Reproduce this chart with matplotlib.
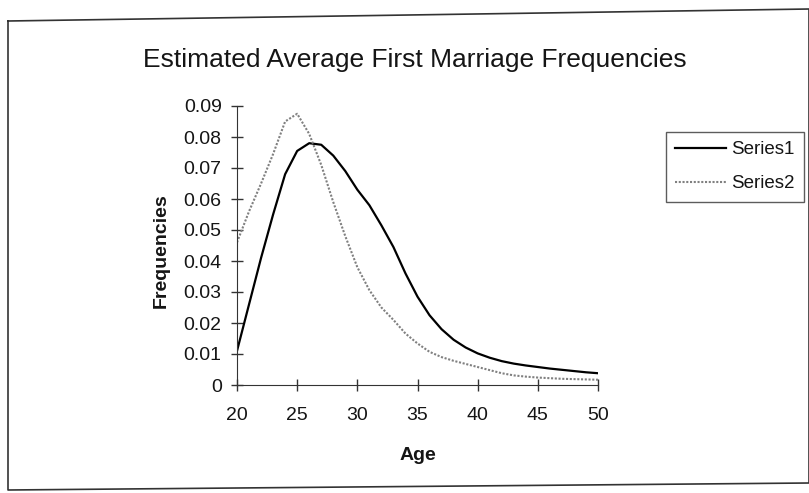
import numpy as np
import matplotlib
matplotlib.use('Agg')
import matplotlib.pyplot as plt
from matplotlib.lines import Line2D

plt.rcParams['font.family'] = ['Liberation Sans', 'DejaVu Sans']

age = list(range(20, 51))
series1 = [0.011, 0.026, 0.041, 0.055, 0.068, 0.0755, 0.078, 0.0775, 0.074, 0.069,
           0.063, 0.058, 0.0515, 0.0445, 0.036, 0.0285, 0.0225, 0.0180, 0.0146, 0.0121,
           0.0102, 0.0088, 0.0077, 0.0069, 0.0063, 0.0058, 0.0053, 0.0049, 0.0045, 0.0041,
           0.0038]
series2 = [0.046, 0.056, 0.065, 0.0745, 0.085, 0.0875, 0.081, 0.071, 0.059, 0.048,
           0.038, 0.0306, 0.025, 0.021, 0.0166, 0.0134, 0.0107, 0.0090, 0.0078, 0.0068,
           0.0058, 0.0048, 0.0038, 0.0031, 0.0027, 0.0024, 0.0022, 0.0020, 0.0019, 0.0018,
           0.0017]

W, H = 809, 493
fig = plt.figure(figsize=(W / 100, H / 100), dpi=100)

def fx(px):
    return px / W

def fy(py):
    return 1 - py / H

ink = '#151515'

# chart area border (slightly skewed like the scan)
border = [(8, 21), (809, 9), (809, 483), (8, 490), (8, 21)]
fig.add_artist(Line2D([fx(p[0]) for p in border], [fy(p[1]) for p in border],
                      color='#333333', linewidth=1.2, transform=fig.transFigure))

ax = fig.add_axes([fx(237), fy(385), fx(598) - fx(237), fy(106) - fy(385)])
ax.plot(age, series1, color='black', linewidth=1.6, label='Series1')
ax.plot(age, series2, color='#808080', linewidth=1.5, linestyle=(0, (1, 0.8)), label='Series2')

ax.set_xlim(20, 50)
ax.set_ylim(0, 0.09)
ax.set_xticks(range(20, 51, 5))
ax.set_yticks(np.arange(0, 0.091, 0.01))
ax.set_yticklabels(['0'] + [f'{v:.2f}' for v in np.arange(0.01, 0.091, 0.01)])
for s in ['top', 'right']:
    ax.spines[s].set_visible(False)
for s in ['left', 'bottom']:
    ax.spines[s].set_color('#333333')
ax.tick_params(direction='inout', length=8, width=1, color='#333333',
               labelsize=14, labelcolor=ink)
ax.tick_params(axis='y', pad=7)
ax.tick_params(axis='x', pad=12)
ax.set_xlabel('Age', fontsize=14, fontweight='bold', color=ink)
ax.set_ylabel('Frequencies', fontsize=14, fontweight='bold', color=ink)
ax.xaxis.set_label_coords(fx(418), fy(447), transform=fig.transFigure)
ax.yaxis.set_label_coords(fx(170), fy(251), transform=fig.transFigure)

fig.text(fx(415), fy(67), 'Estimated Average First Marriage Frequencies',
         ha='center', va='baseline', fontsize=19, color=ink)

leg = ax.legend(loc='upper left', bbox_to_anchor=(fx(666), fy(132)),
                bbox_transform=fig.transFigure, fontsize=13.5, frameon=True,
                fancybox=False, edgecolor='#333333', handlelength=2.7,
                handletextpad=0.25, borderpad=0.5, labelspacing=0.9, borderaxespad=0)
leg.get_frame().set_linewidth(1.0)
for t in leg.get_texts():
    t.set_color(ink)

fig.savefig('out.png', dpi=100)
